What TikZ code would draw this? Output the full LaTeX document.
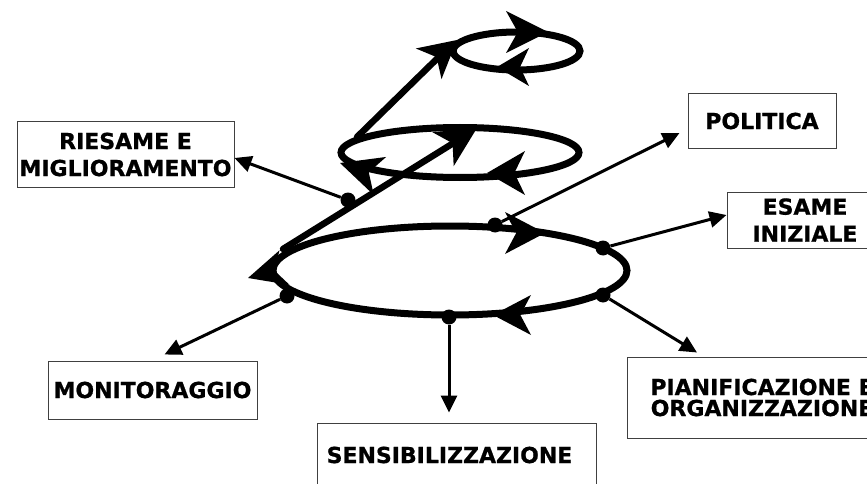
\documentclass[tikz,border=0pt]{standalone}
\usepackage{fontspec}
\newfontfamily\boxfont[FakeBold=0.8]{DejaVu Sans}
\usetikzlibrary{arrows.meta,calc}
\begin{document}
\begin{tikzpicture}[x=1pt,y=-1pt,
  loopline/.style={line width=7pt},
  diag/.style={line width=6.5pt,line cap=round},
  thinarrow/.style={line width=3pt,-{Triangle[length=17pt,width=16pt]}},
  lbl/.style={draw=black!75,line width=1pt,fill=white,
    font=\boxfont\bfseries\fontsize{22}{27}\selectfont,align=center,inner sep=0pt},
  dot/.style={circle,fill=black,inner sep=0pt,minimum size=15pt},
  pics/bigtip/.style n args={2}{code={\fill (0,0) -- (-#1,#2) -- ({-0.72*#1},0) -- (-#1,-#2) -- cycle;}}
]
\useasboundingbox (0,0) rectangle (867,484);
\clip (0,0) rectangle (867,484);

% spiral loops
\draw[loopline] (450,270.5) ellipse [x radius=177pt, y radius=44.5pt];
\draw[loopline] (460,152.5) ellipse [x radius=119pt, y radius=25pt];
\draw[loopline] (516.5,51) ellipse [x radius=63.5pt, y radius=19pt];
\draw[diag] (283,249) -- (468,134);
\draw[diag] (357,137) -- (449,47);

% big arrowheads
\pic[rotate=0] at (545,233) {bigtip={40}{21}};
\pic[rotate=180] at (493,315) {bigtip={38}{20}};
\pic[rotate=196] at (248,278) {bigtip={38}{18}};
\pic[rotate=32] at (477,128) {bigtip={40}{20}};
\pic[rotate=180] at (487,173) {bigtip={38}{22}};
\pic[rotate=162] at (340,163) {bigtip={42}{20}};
\pic[rotate=0] at (548,32) {bigtip={42}{21}};
\pic[rotate=180] at (497,67) {bigtip={32}{19}};
\pic[rotate=40] at (457,40) {bigtip={37}{20}};

% dots
\node[dot] (dR) at (348,200) {};
\node[dot] (dP) at (495,225) {};
\node[dot] (dE) at (603,248) {};
\node[dot] (dPi) at (603,295) {};
\node[dot] (dS) at (449,317) {};
\node[dot] (dM) at (287,296) {};

% boxes
\node[lbl, minimum width=217pt, minimum height=65pt] (riesame) at (125.5,154.5) {RIESAME E\\MIGLIORAMENTO};
\node[lbl, minimum width=148pt, minimum height=54pt] (politica) at (762,121) {POLITICA};
\node[lbl, minimum width=156pt, minimum height=56pt] (esame) at (805,220) {ESAME\\INIZIALE};
\node[lbl, minimum width=209pt, minimum height=58pt] (monit) at (152.5,390) {MONITORAGGIO};
\node[lbl, minimum width=279pt, minimum height=64pt] (sensib) at (456.5,455) {SENSIBILIZZAZIONE\hspace*{14pt}};
\node[lbl, minimum width=270pt, minimum height=81pt,
  font=\boxfont\bfseries\fontsize{22}{21}\selectfont] (pianif) at (762,397.5) {PIANIFICAZIONE E\\ORGANIZZAZIONE};

% connectors
\draw[thinarrow] (dR) -- ([yshift=-3.5pt]riesame.east);
\draw[thinarrow] (dP) -- ([xshift=-8pt,yshift=-12pt]politica.west);
\draw[thinarrow] (dE) -- ([yshift=5pt]esame.west);
\draw[thinarrow] (dPi) -- ([xshift=-65pt,yshift=4pt]pianif.north);
\draw[thinarrow,shorten >=10pt] (dS) -- (dS |- sensib.north);
\draw[thinarrow] (dM) -- ([xshift=12pt,yshift=6pt]monit.north);
\end{tikzpicture}
\end{document}
